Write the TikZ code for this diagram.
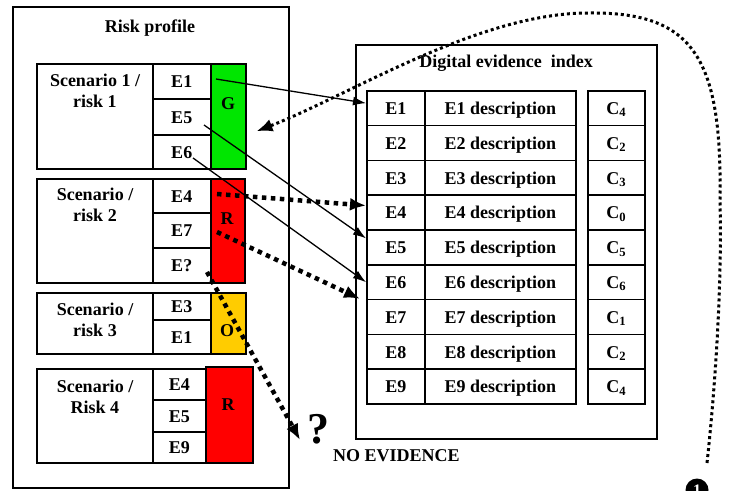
\documentclass[tikz,border=0pt]{standalone}
\usepackage{fontspec}
\setmainfont{Liberation Serif}
\usetikzlibrary{arrows.meta,calc}
\definecolor{gbox}{RGB}{0,230,0}
\definecolor{rbox}{RGB}{255,0,0}
\definecolor{obox}{RGB}{255,204,0}
\begin{document}
\begin{tikzpicture}[x=1pt,y=-1pt,
  lbl/.style={font=\bfseries\fontsize{18}{21}\selectfont, inner sep=0pt},
  box/.style={draw, line width=1.5pt, inner sep=0pt, anchor=north west},
  cell/.style={box, font=\bfseries\fontsize{18}{21}\selectfont, text height=12.5pt, text depth=0pt},
  solidarrow/.style={line width=1.3pt, -{Latex[length=13pt,width=9pt]}},
  dotarrow/.style={line width=4.5pt, dash pattern=on 4.5pt off 4.5pt, -{Latex[length=16pt,width=13pt]}},
  dotcurve/.style={line width=3pt, dash pattern=on 3pt off 3pt, -{Latex[length=16pt,width=13pt]}},
]
\useasboundingbox (0,0) rectangle (730,490);
\fill[white] (0,0) rectangle (730,490);

% Risk profile
\node[box, minimum width=276pt, minimum height=481pt] (rp) at (12,6) {};
\node[lbl, anchor=base] (rpt) at (150,32.5) {Risk profile};

% Scenario 1
\node[box, minimum width=116pt, minimum height=105pt] (s1) at (36,63) {};
\node[lbl, align=center, anchor=north] (s1t) at (95,74) {Scenario 1 /\\risk 1};
\node[cell, minimum width=58pt, minimum height=35pt] (a1) at (152,63) {E1};
\node[cell, minimum width=58pt, minimum height=36pt] (a5) at (152,98) {E5};
\node[cell, minimum width=58pt, minimum height=34pt] (a6) at (152,134) {E6};
\node[box, fill=gbox, minimum width=35pt, minimum height=105pt] (g1) at (210,63) {};
\node[lbl] (g1t) at (228,104) {G};

% Scenario 2
\node[box, minimum width=116pt, minimum height=104pt] (s2) at (36,178) {};
\node[lbl, align=center, anchor=north] (s2t) at (95,188) {Scenario /\\risk 2};
\node[cell, minimum width=58pt, minimum height=34pt] (b4) at (152,178) {E4};
\node[cell, minimum width=58pt, minimum height=35pt] (b7) at (152,212) {E7};
\node[cell, minimum width=58pt, minimum height=35pt] (bq) at (152,247) {E?};
\node[box, fill=rbox, minimum width=34pt, minimum height=104pt] (r2) at (210,178) {};
\node[lbl] (r2t) at (227,218.5) {R};

% Scenario 3
\node[box, minimum width=116pt, minimum height=61pt] (s3) at (36,292) {};
\node[lbl, align=center, anchor=north] (s3t) at (95,303) {Scenario /\\risk 3};
\node[cell, minimum width=58pt, minimum height=27pt] (c3) at (152,292) {E3};
\node[cell, minimum width=58pt, minimum height=34pt] (c1) at (152,319) {E1};
\node[box, fill=obox, minimum width=35pt, minimum height=61pt] (o3) at (210,292) {};
\node[lbl] (o3t) at (227,331) {O};

% Scenario 4
\node[box, minimum width=116pt, minimum height=94pt] (s4) at (36,368) {};
\node[lbl, align=center, anchor=north] (s4t) at (95,380) {Scenario /\\Risk 4};
\node[cell, minimum width=53pt, minimum height=31pt] (d4) at (152,368) {E4};
\node[cell, minimum width=53pt, minimum height=32pt] (d5) at (152,399) {E5};
\node[cell, minimum width=53pt, minimum height=31pt] (d9) at (152,431) {E9};
\node[box, fill=rbox, minimum width=47pt, minimum height=96pt] (r4) at (205,366) {};
\node[lbl] (r4t) at (228,405) {R};

% Digital evidence index
\node[box, minimum width=301pt, minimum height=394pt] (dx) at (355,44) {};
\node[lbl, anchor=base] (dxt) at (506,67) {Digital evidence\ \ index};
\foreach \i/\c [count=\k from 0] in {1/4,2/2,3/3,4/0,5/5,6/6,7/1,8/2,9/4} {
  \node[cell, minimum width=58pt, minimum height=34.8pt] (ie\i) at (366,{90+34.8*\k}) {E\i};
  \node[cell, minimum width=151pt, minimum height=34.8pt] (id\i) at (424,{90+34.8*\k}) {E\i{} description};
  \node[cell, minimum width=57pt, minimum height=34.8pt] (ic\i) at (587,{90+34.8*\k}) {C\textsubscript{\c}};
}

% NO EVIDENCE and question mark
\node[font=\bfseries\fontsize{44}{44}\selectfont, inner sep=0pt] (qm) at (318,429) {?};
\node[lbl, anchor=base west] (ne) at (333,461) {NO EVIDENCE};

% marker
\node[circle, fill=black, text=white, minimum size=23pt, inner sep=0pt,
      font=\bfseries\fontsize{16}{16}\selectfont] (bul) at (697,490) {1};

% connectors
\coordinate (p1) at (216,79);
\coordinate (p5) at (204,125);
\coordinate (p6) at (193,158);
\coordinate (q4) at (217,194);
\coordinate (q7) at (217,232);
\coordinate (qq) at (207,272);
\coordinate (qe) at (300,440);
\coordinate (c0) at (707,463);

\draw[solidarrow] (p1) -- ([yshift=5pt]ie1.west);
\draw[solidarrow] (p5) -- ([yshift=9pt]ie5.west);
\draw[solidarrow] (p6) -- (ie6.west);

\draw[dotarrow] (q4) -- ([yshift=7pt]ie4.west);
\draw[dotarrow] (q7) -- ([xshift=-6pt]ie7.north west);
\draw[dotarrow] (qq) -- (qe);

\draw[dotcurve] (c0) .. controls (716,380) and (722,280) .. (720,200)
  .. controls (722,60) and (695,12) .. (590,13)
  .. controls (480,12) and (350,95) .. ($(g1.east)+(10,15)$);
\end{tikzpicture}
\end{document}
